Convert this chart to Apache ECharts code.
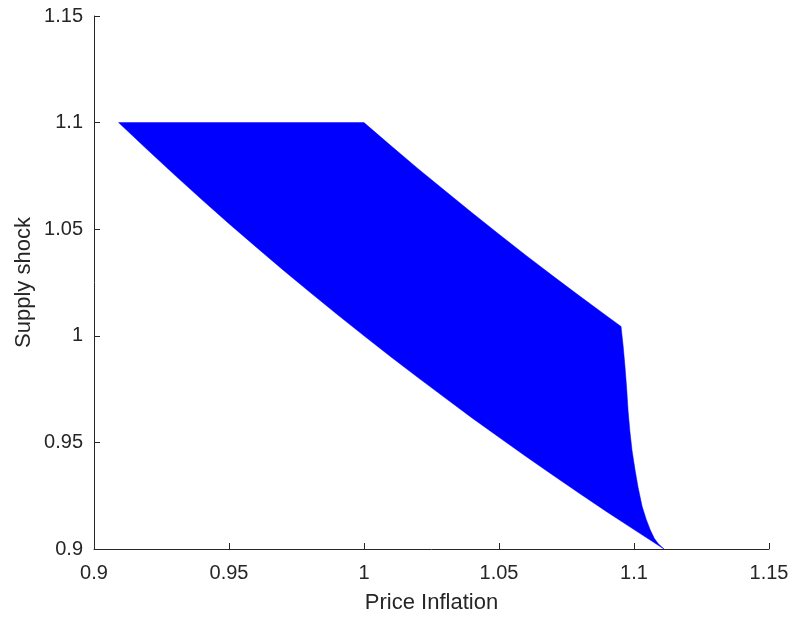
<!DOCTYPE html>
<html>
<head>
<meta charset="utf-8">
<style>
  html, body { margin: 0; padding: 0; background: #fff; }
  #chart { width: 794px; height: 620px; }
</style>
<script src="https://cdn.jsdelivr.net/npm/echarts@6/dist/echarts.min.js"></script>
</head>
<body>
<div id="chart"></div>
<script>
// boundary of the feasible region
// top edge + upper right edge, left to right
const upperX = [0.9091, 1.000, 1.010, 1.020, 1.030, 1.040, 1.050, 1.060, 1.070, 1.080, 1.090, 1.0952];
const upperY = [1.1000, 1.1000, 1.0891, 1.0784, 1.0680, 1.0577, 1.0476, 1.0377, 1.0280, 1.0185, 1.0092, 1.0044];
// steep right edge, top to bottom
const rightX = [1.0960, 1.0967, 1.0973, 1.0978, 1.0985, 1.0993, 1.1004, 1.1015, 1.1030, 1.1045, 1.1060, 1.1075, 1.1090, 1.1111];
const rightY = [0.995, 0.985, 0.975, 0.965, 0.955, 0.946, 0.937, 0.929, 0.920, 0.914, 0.909, 0.905, 0.9025, 0.900];
// lower edge, left to right
const lowerX = [0.9091, 0.920, 0.930, 0.940, 0.950, 0.960, 0.970, 0.980, 0.990, 1.000, 1.010,
                1.020, 1.030, 1.040, 1.050, 1.060, 1.070, 1.080, 1.090, 1.100, 1.1111];
const lowerY = [1.1000, 1.0870, 1.0753, 1.0638, 1.0526, 1.0417, 1.0309, 1.0204, 1.0101, 1.0000, 0.9901,
                0.9804, 0.9709, 0.9615, 0.9524, 0.9434, 0.9346, 0.9259, 0.9174, 0.9091, 0.9000];

const outline = [];
upperX.forEach((x, i) => outline.push([x, upperY[i]]));
rightX.forEach((x, i) => outline.push([x, rightY[i]]));
for (let i = lowerX.length - 1; i >= 0; i--) {
  outline.push([lowerX[i], lowerY[i]]);
}

const chart = echarts.init(document.getElementById("chart"));

const textColor = "#262626";

const axisCommon = {
  type: "value",
  min: 0.9,
  max: 1.15,
  interval: 0.05,
  nameLocation: "middle",
  nameMoveOverlap: false,
  nameTextStyle: {
    color: textColor,
    fontSize: 22,
    fontFamily: "Liberation Sans"
  },
  axisLine: { show: true, lineStyle: { color: textColor, width: 1 } },
  axisTick: { show: true, inside: true, length: 6, lineStyle: { color: textColor } },
  splitLine: { show: false },
  axisLabel: {
    color: textColor,
    fontSize: 20,
    fontFamily: "Liberation Sans",
    formatter: v => String(Math.round(v * 100) / 100)
  }
};

chart.setOption({
  animation: false,
  grid: { left: 94, right: 25, top: 16, bottom: 71 },
  xAxis: Object.assign({}, axisCommon, {
    name: "Price Inflation",
    nameGap: 43,
    axisLabel: Object.assign({}, axisCommon.axisLabel, { margin: 14 })
  }),
  yAxis: Object.assign({}, axisCommon, {
    name: "Supply shock",
    nameGap: 59,
    axisLabel: Object.assign({}, axisCommon.axisLabel, { margin: 11 })
  }),
  series: [
    {
      type: "custom",
      data: [0],
      renderItem: (params, api) => {
        const pts = outline.map(p => api.coord(p));
        return {
          type: "polygon",
          shape: { points: pts },
          style: { fill: "#0000ff", stroke: "#0000ff", lineWidth: 0.5 }
        };
      }
    }
  ]
});
</script>
</body>
</html>
